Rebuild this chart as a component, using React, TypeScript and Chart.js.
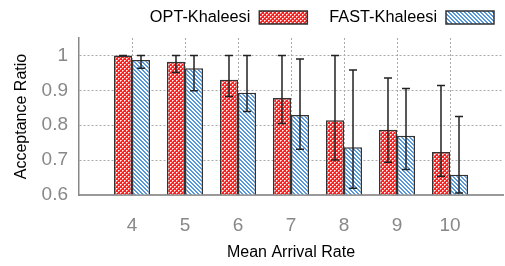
import React, { useEffect, useRef } from "react";
import { Chart, registerables } from "chart.js";

Chart.register(...registerables);

const xLabels = ["", "4", "5", "6", "7", "8", "9", "10", ""];
const optValues = [null, 1.0, 0.982, 0.93, 0.878, 0.814, 0.787, 0.723, null];
const optLow = [null, 1.0, 0.951, 0.882, 0.805, 0.7, 0.694, 0.654, null];
const optHigh = [null, 1.0, 1.0, 1.0, 1.0, 1.0, 0.935, 0.914, null];
const fastValues = [null, 0.987, 0.963, 0.893, 0.829, 0.737, 0.77, 0.658, null];
const fastLow = [null, 0.963, 0.899, 0.839, 0.731, 0.619, 0.673, 0.606, null];
const fastHigh = [null, 1.0, 1.0, 1.0, 0.99, 0.958, 0.905, 0.825, null];
const yTicks = [0.6, 0.7, 0.8, 0.9, 1.0];

const FONT = "'Liberation Sans', Arial, Helvetica, sans-serif";

function makeRedPattern(): CanvasPattern | string {
  const c = document.createElement("canvas");
  c.width = 4;
  c.height = 4;
  const g = c.getContext("2d");
  if (!g) return "#f00";
  g.fillStyle = "#ff2020";
  g.fillRect(0, 0, 4, 4);
  g.fillStyle = "#ffffff";
  g.fillRect(0, 0, 1, 1);
  g.fillRect(2, 2, 1, 1);
  g.fillStyle = "#ffa0a0";
  g.fillRect(1, 0, 1, 1);
  g.fillRect(0, 1, 1, 1);
  g.fillRect(3, 2, 1, 1);
  g.fillRect(2, 3, 1, 1);
  return g.createPattern(c, "repeat") || "#f00";
}

function makeBluePattern(): CanvasPattern | string {
  const c = document.createElement("canvas");
  c.width = 4;
  c.height = 4;
  const g = c.getContext("2d");
  if (!g) return "#59d";
  g.fillStyle = "#ffffff";
  g.fillRect(0, 0, 4, 4);
  g.fillStyle = "#5598de";
  for (let x = 0; x < 4; x++) {
    for (let y = 0; y < 4; y++) {
      const d = (((x - y) % 4) + 4) % 4;
      if (d === 0 || d === 1) g.fillRect(x, y, 1, 1);
    }
  }
  return g.createPattern(c, "repeat") || "#59d";
}

const errorBarPlugin = {
  id: "errorBars",
  afterDatasetsDraw(chart: any) {
    const { ctx } = chart;
    const yScale = chart.scales.y;
    const lows = [optLow, fastLow];
    const highs = [optHigh, fastHigh];
    chart.data.datasets.forEach((_ds: any, di: number) => {
      const meta = chart.getDatasetMeta(di);
      meta.data.forEach((bar: any, i: number) => {
        const lo = lows[di][i];
        const hi = highs[di][i];
        if (lo == null || hi == null) return;
        const x = bar.x;
        const yLo = yScale.getPixelForValue(lo);
        const yHi = yScale.getPixelForValue(hi);
        const cap = 4;
        ctx.save();
        ctx.strokeStyle = "#222";
        ctx.lineWidth = 1.5;
        ctx.beginPath();
        ctx.moveTo(x, yLo);
        ctx.lineTo(x, yHi);
        ctx.moveTo(x - cap, yLo);
        ctx.lineTo(x + cap, yLo);
        ctx.moveTo(x - cap, yHi);
        ctx.lineTo(x + cap, yHi);
        ctx.stroke();
        ctx.restore();
      });
    });
  },
};

const rightLegendPlugin = {
  id: "rightLegend",
  afterDraw(chart: any) {
    const { ctx } = chart;
    const datasets = chart.data.datasets;
    const boxW = 48;
    const boxH = 13;
    const boxTop = 11;
    const baseline = 22;
    let right = 494;
    ctx.save();
    ctx.font = `16.3px ${FONT}`;
    ctx.textBaseline = "alphabetic";
    ctx.textAlign = "right";
    for (let i = datasets.length - 1; i >= 0; i--) {
      const ds = datasets[i];
      const boxLeft = right - boxW;
      ctx.fillStyle = ds.backgroundColor;
      ctx.fillRect(boxLeft, boxTop, boxW, boxH);
      ctx.strokeStyle = "#333";
      ctx.lineWidth = 1.5;
      ctx.strokeRect(boxLeft, boxTop, boxW, boxH);
      const textRight = boxLeft - 9;
      ctx.fillStyle = "#000";
      ctx.fillText(ds.label, textRight, baseline);
      const w = ctx.measureText(ds.label).width;
      right = textRight - w - 22;
    }
    ctx.restore();
  },
};

export default function App() {
  const canvasRef = useRef<HTMLCanvasElement | null>(null);

  useEffect(() => {
    if (!canvasRef.current) return;
    const chart = new Chart(canvasRef.current, {
      type: "bar",
      data: {
        labels: xLabels,
        datasets: [
          {
            label: "OPT-Khaleesi",
            data: optValues as any,
            backgroundColor: makeRedPattern() as any,
            borderColor: "#333",
            borderWidth: 1.5,
            base: 0.6,
            clip: { left: 5, right: 5, top: 5, bottom: 0 } as any,
          },
          {
            label: "FAST-Khaleesi",
            data: fastValues as any,
            backgroundColor: makeBluePattern() as any,
            borderColor: "#333",
            borderWidth: 1.5,
            base: 0.6,
            clip: { left: 5, right: 5, top: 5, bottom: 0 } as any,
          },
        ],
      },
      options: {
        responsive: false,
        animation: false,
        layout: { padding: { left: 0, right: 2, top: 38, bottom: 0 } },
        datasets: {
          bar: { categoryPercentage: 0.68, barPercentage: 1 },
        },
        plugins: {
          legend: { display: false },
          tooltip: { enabled: false },
        },
        scales: {
          x: {
            type: "category",
            offset: false,
            afterFit: (s: any) => {
              s.height = 71;
              s.paddingLeft = 0;
              s.paddingRight = 0;
            },
            grid: {
              offset: false,
              drawTicks: false,
              color: (c: any) =>
                c.index === 0 || c.index === xLabels.length - 1 ? "rgba(0,0,0,0)" : "#aaa",
              lineWidth: 1,
            },
            border: { display: true, color: "#999", width: 2, dash: [2, 2] },
            ticks: {
              color: "#888",
              padding: 19,
              font: { family: FONT, size: 19 },
              maxRotation: 0,
              autoSkip: false,
            },
            title: {
              display: true,
              text: "Mean Arrival Rate",
              color: "#000",
              font: { family: FONT, size: 16 },
              padding: { top: 4, bottom: 4 },
            },
          },
          y: {
            type: "linear",
            min: 0.6,
            max: 1.05,
            afterBuildTicks: (s: any) => {
              s.ticks = yTicks.map((v) => ({ value: v }));
            },
            afterFit: (s: any) => {
              s.width = 79;
            },
            grid: {
              drawTicks: false,
              color: (c: any) =>
                c.tick && Math.abs(c.tick.value - 0.6) < 1e-6 ? "rgba(0,0,0,0)" : "#aaa",
              lineWidth: 1,
            },
            border: { display: true, color: "#888", width: 1.5, dash: [2, 2] },
            ticks: {
              color: "#888",
              padding: 11,
              font: { family: FONT, size: 19 },
              callback: (v: any) => String(Math.round(Number(v) * 10) / 10),
            },
            title: {
              display: true,
              text: "Acceptance Ratio",
              color: "#000",
              font: { family: FONT, size: 16 },
              padding: { top: 12, bottom: 4 },
            },
          },
        },
      },
      plugins: [errorBarPlugin, rightLegendPlugin],
    });
    return () => chart.destroy();
  }, []);

  return (
    <div style={{ position: "absolute", left: 0, top: 0, width: 505, height: 266 }}>
      <canvas ref={canvasRef} width={505} height={266} />
    </div>
  );
}
